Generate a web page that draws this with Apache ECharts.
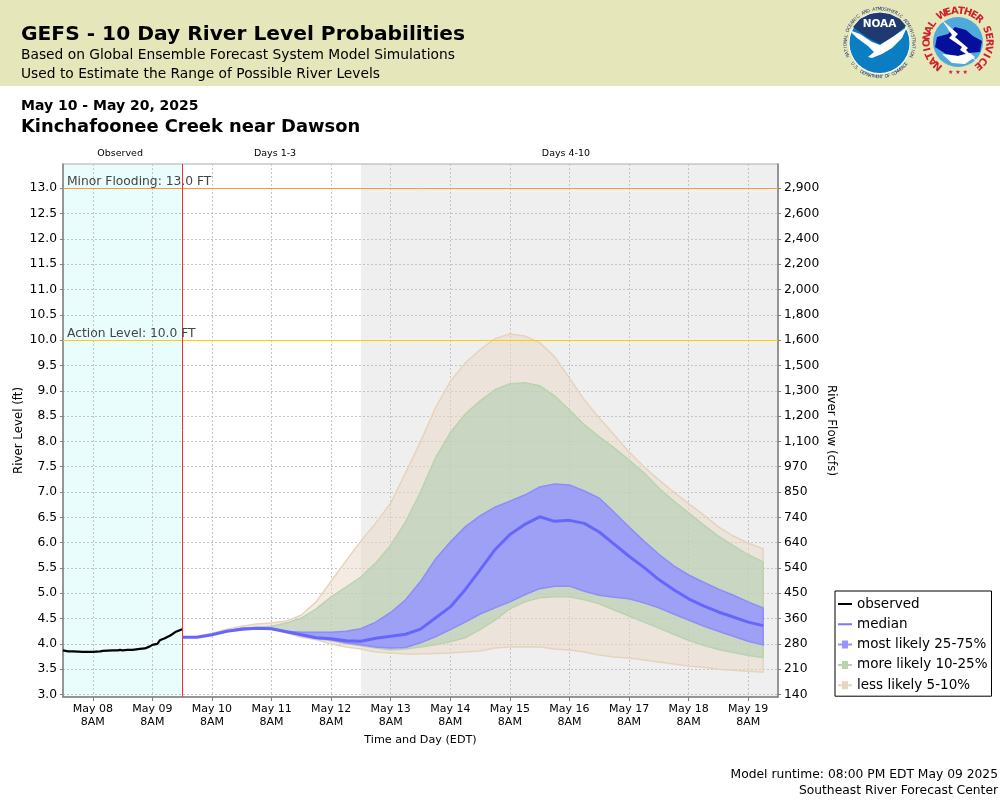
<!DOCTYPE html>
<html>
<head>
<meta charset="utf-8">
<title>GEFS River Level Probabilities</title>
<style>
  html, body { margin: 0; padding: 0; background: #fff; }
  #chart { width: 1000px; height: 800px; }
</style>
<script src="https://cdn.jsdelivr.net/npm/echarts@6/dist/echarts.min.js"></script>
</head>
<body>
<div id="chart"></div>
<script>
// x values are hours since May 07 8PM
var tickHours = [12, 36, 60, 84, 108, 132, 156, 180, 204, 228, 252, 276];
var tickLabels = ['May 08\n8AM', 'May 09\n8AM', 'May 10\n8AM', 'May 11\n8AM', 'May 12\n8AM', 'May 13\n8AM',
  'May 14\n8AM', 'May 15\n8AM', 'May 16\n8AM', 'May 17\n8AM', 'May 18\n8AM', 'May 19\n8AM'];
var levelTicks = [13, 12.5, 12, 11.5, 11, 10.5, 10, 9.5, 9, 8.5, 8, 7.5, 7, 6.5, 6, 5.5, 5, 4.5, 4, 3.5, 3];
var flowLabels = ['2,900', '2,600', '2,400', '2,200', '2,000', '1,800', '1,600', '1,500', '1,300', '1,200', '1,100',
  '970', '850', '740', '640', '540', '450', '360', '280', '210', '140'];

var obsHours = [0, 2, 4, 8, 12, 15, 16, 20, 22, 23, 24, 26, 28, 31, 33, 35, 36, 38, 39, 41, 43, 44, 45.5, 47, 48];
var obsLevels = [3.87, 3.85, 3.85, 3.84, 3.84, 3.85, 3.86, 3.87, 3.87, 3.88, 3.87, 3.88, 3.88, 3.90, 3.91, 3.95, 3.98,
  4.00, 4.07, 4.11, 4.16, 4.19, 4.24, 4.27, 4.29];

// forecast points, every 6 hours from May 09 8PM
var fcstHours = [48, 54, 60, 66, 72, 78, 84, 90, 96, 102, 108, 114, 120, 126, 132, 138, 144, 150, 156, 162,
  168, 174, 180, 186, 192, 198, 204, 210, 216, 222, 228, 234, 240, 246, 252, 258, 264, 270, 276, 282];
var median = [4.13, 4.13, 4.18, 4.25, 4.29, 4.31, 4.30, 4.24, 4.18, 4.12, 4.10, 4.06, 4.05, 4.11, 4.15, 4.19, 4.29, 4.51, 4.73, 5.07,
  5.46, 5.86, 6.16, 6.36, 6.51, 6.42, 6.44, 6.38, 6.21, 5.97, 5.73, 5.51, 5.27, 5.07, 4.89, 4.75, 4.63, 4.53, 4.43, 4.36];
var p75 = [4.13, 4.13, 4.18, 4.25, 4.31, 4.32, 4.31, 4.25, 4.23, 4.23, 4.23, 4.25, 4.30, 4.43, 4.62, 4.87, 5.23, 5.67, 6.01, 6.31,
  6.53, 6.70, 6.82, 6.94, 7.10, 7.16, 7.14, 7.02, 6.88, 6.60, 6.31, 6.03, 5.77, 5.54, 5.36, 5.22, 5.08, 4.96, 4.83, 4.71];
var p25 = [4.13, 4.13, 4.18, 4.25, 4.29, 4.31, 4.30, 4.24, 4.17, 4.11, 4.08, 4.02, 3.98, 3.94, 3.92, 3.93, 4.02, 4.14, 4.28, 4.43,
  4.59, 4.71, 4.83, 4.97, 5.09, 5.14, 5.14, 5.04, 4.96, 4.92, 4.89, 4.81, 4.71, 4.59, 4.47, 4.35, 4.25, 4.15, 4.05, 3.98];
var p90 = [4.13, 4.13, 4.18, 4.25, 4.31, 4.33, 4.35, 4.41, 4.51, 4.69, 4.93, 5.12, 5.32, 5.60, 5.95, 6.41, 7.00, 7.67, 8.17, 8.54,
  8.80, 9.02, 9.14, 9.16, 9.10, 8.90, 8.62, 8.33, 8.09, 7.87, 7.63, 7.38, 7.08, 6.82, 6.59, 6.35, 6.13, 5.94, 5.76, 5.62];
var p10 = [4.13, 4.13, 4.18, 4.25, 4.29, 4.31, 4.30, 4.23, 4.16, 4.10, 4.06, 4.00, 3.96, 3.92, 3.88, 3.90, 3.94, 3.98, 4.04, 4.12,
  4.28, 4.47, 4.69, 4.83, 4.91, 4.93, 4.93, 4.87, 4.79, 4.67, 4.55, 4.43, 4.31, 4.19, 4.07, 3.97, 3.89, 3.83, 3.77, 3.73];
var p95 = [4.13, 4.15, 4.21, 4.29, 4.35, 4.39, 4.41, 4.45, 4.57, 4.83, 5.24, 5.64, 6.03, 6.39, 6.78, 7.38, 7.99, 8.66, 9.18, 9.55,
  9.81, 10.03, 10.12, 10.08, 9.95, 9.67, 9.25, 8.82, 8.46, 8.13, 7.79, 7.50, 7.24, 7.00, 6.77, 6.55, 6.31, 6.13, 5.99, 5.88];
var p05 = [4.13, 4.13, 4.17, 4.24, 4.28, 4.30, 4.29, 4.22, 4.13, 4.08, 4.00, 3.94, 3.90, 3.84, 3.82, 3.80, 3.80, 3.81, 3.82, 3.84,
  3.86, 3.92, 3.94, 3.94, 3.94, 3.90, 3.88, 3.84, 3.78, 3.74, 3.72, 3.68, 3.64, 3.60, 3.56, 3.54, 3.50, 3.48, 3.46, 3.44];

var font = 'DejaVu Sans';
var chart = echarts.init(document.getElementById('chart'));

function zip(xs, ys) {
  return xs.map(function (x, i) { return [x, ys[i]]; });
}

// 概率带: one polygon between the upper and lower curves
function band(name, upper, lower, fill, stroke) {
  return {
    name: name,
    type: 'custom',
    coordinateSystem: 'cartesian2d',
    data: zip(fcstHours, upper),
    itemStyle: { color: fill },
    renderItem: function (params, api) {
      if (params.dataIndex !== 0) return null;
      var pts = [];
      for (var i = 0; i < fcstHours.length; i++) pts.push(api.coord([fcstHours[i], upper[i]]));
      for (var j = fcstHours.length - 1; j >= 0; j--) pts.push(api.coord([fcstHours[j], lower[j]]));
      return {
        type: 'polygon',
        shape: { points: pts },
        style: { fill: fill, stroke: stroke, lineWidth: 1.5 }
      };
    }
  };
}

// letters set around a circle, angles in degrees clockwise from north
function ringText(text, cx, cy, r, from, to, size, color, weight) {
  var out = [];
  var flip = from > to;
  for (var i = 0; i < text.length; i++) {
    var a = (from + (to - from) * i / (text.length - 1)) * Math.PI / 180;
    out.push({
      type: 'text',
      x: cx + r * Math.sin(a),
      y: cy - r * Math.cos(a),
      rotation: flip ? Math.PI - a : -a,
      style: { text: text[i], fill: color, font: weight + ' ' + size + 'px "' + font + '"', align: 'center', verticalAlign: 'middle' }
    });
  }
  return out;
}

function headerText(text, y, size, weight, color) {
  return {
    type: 'text', left: 21, top: y,
    style: { text: text, fill: color || '#000', font: weight + ' ' + size + 'px "' + font + '"' }
  };
}

function footerText(text, y) {
  return {
    type: 'text', right: 2, top: y,
    style: { text: text, fill: '#000', font: '12.3px "' + font + '"', textAlign: 'right' }
  };
}

var noaaX = 879.5, noaaY = 43, nwsX = 958, nwsY = 42;
var graphics = [
  { type: 'rect', shape: { x: 0, y: 0, width: 1000, height: 86 }, style: { fill: '#E5E6B9' } },
  headerText('GEFS - 10 Day River Level Probabilities', 25, 20.2, 'bold'),
  headerText('Based on Global Ensemble Forecast System Model Simulations', 48, 13.8, 'normal'),
  headerText('Used to Estimate the Range of Possible River Levels', 67, 13.8, 'normal'),
  headerText('May 10 - May 20, 2025', 99, 14, 'bold'),
  headerText('Kinchafoonee Creek near Dawson', 118.5, 17.9, 'bold'),
  footerText('Model runtime: 08:00 PM EDT May 09 2025', 769),
  footerText('Southeast River Forecast Center', 785),
  // NOAA
  { type: 'circle', shape: { cx: noaaX, cy: noaaY, r: 31 }, style: { fill: '#fff' } },
  { type: 'circle', shape: { cx: noaaX, cy: noaaY, r: 30 }, style: { fill: '#0B7DC2' } },
  { type: 'polygon', shape: { points: [[853, 27], [860, 19], [870, 14], [880, 12.5], [890, 14], [900, 19], [906, 26], [892, 38], [880, 44], [868, 38]] }, style: { fill: '#1E3A70' } },
  { type: 'polygon', shape: { points: [[849, 30], [860, 34], [872, 42], [880, 45], [894, 36], [907, 27], [902, 38], [892, 48], [882, 54], [872, 58], [868, 57], [874, 52], [868, 46], [857, 38]] }, style: { fill: '#fff' } },
  { type: 'text', x: noaaX, y: 24, style: { text: 'NOAA', fill: '#fff', font: 'bold 10.5px "' + font + '"', align: 'center', verticalAlign: 'middle' } },
  // NWS
  { type: 'circle', shape: { cx: nwsX, cy: nwsY, r: 25 }, style: { fill: '#4FA9DA' } },
  { type: 'polygon', shape: { points: [[935, 47], [937, 37], [948, 34], [955, 27], [966, 30], [973, 36], [982, 41], [980, 52], [968, 53], [958, 56], [946, 54]] }, style: { fill: '#050F9C' } },
  { type: 'polygon', shape: { points: [[942, 54], [958, 56], [970, 53], [975, 57], [965, 64], [952, 63]] }, style: { fill: '#fff' } },
  { type: 'polygon', shape: { points: [[942, 20], [958, 34], [955, 37], [968, 48], [966, 50], [978, 62], [960, 50], [962, 47], [949, 38], [952, 35]] }, style: { fill: '#fff' } },
  { type: 'text', x: nwsX, y: 72, style: { text: '\u2605 \u2605 \u2605', fill: '#D0202A', font: '6px "' + font + '"', align: 'center', verticalAlign: 'middle' } }
]
  .concat(ringText('NATIONAL OCEANIC AND ATMOSPHERIC ADMINISTRATION', noaaX, noaaY, 34, -112, 112, 4.5, '#1E3A70', 'normal'))
  .concat(ringText('U.S. DEPARTMENT OF COMMERCE', noaaX, noaaY, 34, 232, 128, 4.5, '#1E3A70', 'normal'))
  .concat(ringText('NATIONAL WEATHER SERVICE', nwsX, nwsY, 31, -140, 140, 10, '#D0202A', 'bold'));

var gridLine = { show: true, lineStyle: { color: '#C4C4C4', type: [2, 2], width: 1 } };

var yAxisCommon = {
  type: 'value',
  min: 2.95,
  max: 13.48,
  nameLocation: 'middle',
  nameMoveOverlap: false,
  nameTextStyle: { color: '#000', fontFamily: font, fontSize: 11.8 },
  axisLine: { show: true, lineStyle: { color: '#808080', width: 1.5 } },
  axisTick: { show: true, length: 3, lineStyle: { color: '#808080' }, customValues: levelTicks },
  axisLabel: { color: '#000', fontFamily: font, fontSize: 12.3, margin: 6, padding: [3, 0, 0, 0], customValues: levelTicks }
};

// tiny corner marks keep the icon box 14x8 so the path is not stretched
var lineIcon = 'path://M0 3H14V5H0Z M0 0H0.01V0.01H0Z M0 8H0.01V7.99H0Z';
var bandIcon = 'path://M0 3H4V0H10V3H14V5H10V8H4V5H0Z';

var option = {
  animation: false,
  backgroundColor: '#fff',
  graphic: graphics,
  grid: { left: 63, right: 222, top: 164, bottom: 103, outerBoundsMode: 'none', show: true, borderColor: '#ABABAB', borderWidth: 1, backgroundColor: 'transparent' },
  legend: {
    left: 835,
    top: 591,
    orient: 'vertical',
    align: 'left',
    backgroundColor: '#fff',
    borderColor: '#000',
    borderWidth: 1,
    padding: [6, 4, 4, 3],
    itemWidth: 14,
    itemHeight: 8,
    itemGap: 6.3,
    textStyle: { color: '#000', fontFamily: font, fontSize: 13.5 },
    data: [
      { name: 'observed', icon: lineIcon, itemStyle: { color: '#000' } },
      { name: 'median', icon: lineIcon, itemStyle: { color: '#7777FF' } },
      { name: 'most likely 25-75%', icon: bandIcon, itemStyle: { color: '#9696F8' } },
      { name: 'more likely 10-25%', icon: bandIcon, itemStyle: { color: '#BAD3AE' } },
      { name: 'less likely 5-10%', icon: bandIcon, itemStyle: { color: '#E6D5BF' } }
    ]
  },
  xAxis: {
    type: 'value',
    min: 0,
    max: 288,
    name: 'Time and Day (EDT)',
    nameLocation: 'middle',
    nameGap: 38,
    nameTextStyle: { color: '#000', fontFamily: font, fontSize: 11.2 },
    axisLine: { onZero: false, lineStyle: { color: '#808080', width: 1.5 } },
    axisTick: { show: true, length: 4, lineStyle: { color: '#808080' }, customValues: tickHours },
    axisLabel: {
      color: '#000', fontFamily: font, fontSize: 11, margin: 6, lineHeight: 13,
      customValues: tickHours,
      formatter: function (v) { return tickLabels[tickHours.indexOf(v)]; }
    },
    splitLine: gridLine
  },
  yAxis: [
    Object.assign({}, yAxisCommon, {
      position: 'left',
      name: 'River Level (ft)',
      nameGap: 38,
      axisLabel: Object.assign({}, yAxisCommon.axisLabel, { formatter: function (v) { return v.toFixed(1); } }),
      splitLine: gridLine
    }),
    Object.assign({}, yAxisCommon, {
      position: 'right',
      name: 'River Flow (cfs)',
      nameGap: 47,
      nameRotate: -90,
      axisLabel: Object.assign({}, yAxisCommon.axisLabel, { formatter: function (v) { return flowLabels[levelTicks.indexOf(v)]; } }),
      splitLine: { show: false }
    })
  ],
  series: [
    {
      // shaded periods, under the grid lines
      type: 'line',
      z: -1,
      silent: true,
      data: [],
      markArea: {
        silent: true,
        z: -1,
        label: { position: 'top', distance: 5, color: '#000', fontFamily: font, fontSize: 9.5 },
        data: [
          [{ name: 'Observed', xAxis: 0, itemStyle: { color: '#E9FDFD' }, label: { offset: [-2.5, 0] } }, { xAxis: 48 }],
          [{ name: 'Days 1-3', xAxis: 48, itemStyle: { color: 'rgba(255,255,255,0)' }, label: { offset: [3.5, 0] } }, { xAxis: 120 }],
          [{ name: 'Days 4-10', xAxis: 120, itemStyle: { color: '#EFEFEF' }, label: { offset: [-3.5, 0] } }, { xAxis: 288 }]
        ]
      }
    },
    band('less likely 5-10%', p95, p05, 'rgba(233,218,198,0.5)', '#E6D3BC'),
    band('more likely 10-25%', p90, p10, 'rgba(179,205,178,0.6)', '#BAD3AE'),
    band('most likely 25-75%', p75, p25, 'rgba(150,150,255,0.85)', '#8C8CFA'),
    {
      name: 'median',
      type: 'line',
      data: zip(fcstHours, median),
      symbol: 'none',
      lineStyle: { color: '#6666FF', width: 3 },
      itemStyle: { color: '#6666FF' }
    },
    {
      name: 'observed',
      type: 'line',
      data: zip(obsHours, obsLevels),
      symbol: 'none',
      lineStyle: { color: '#000', width: 2.2 },
      itemStyle: { color: '#000' },
      markLine: {
        silent: true,
        symbol: 'none',
        label: { show: false },
        data: [
          { yAxis: 13, name: 'Minor Flooding: 13.0 FT', lineStyle: { color: '#F79B3C', type: 'solid', width: 1 },
            label: { show: true, position: 'insideStartTop', formatter: '{b}', color: '#444', fontFamily: font, fontSize: 12.3, distance: 0, offset: [4, 0] } },
          { yAxis: 10, name: 'Action Level: 10.0 FT', lineStyle: { color: '#FFCC00', type: 'solid', width: 1 },
            label: { show: true, position: 'insideStartTop', formatter: '{b}', color: '#444', fontFamily: font, fontSize: 12.3, distance: 0, offset: [4, 0] } },
          { xAxis: 48, lineStyle: { color: '#FF2A2A', type: 'solid', width: 1 } }
        ]
      }
    }
  ]
};

chart.setOption(option);
</script>
</body>
</html>
